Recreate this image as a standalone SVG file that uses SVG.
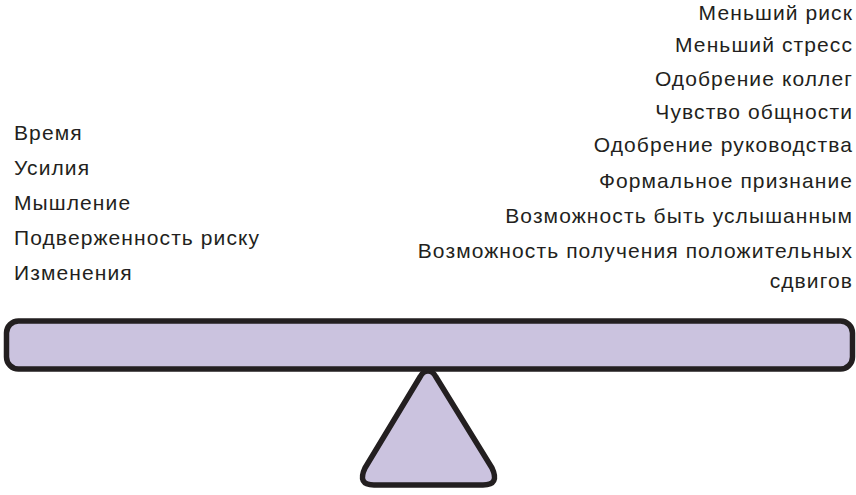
<svg xmlns="http://www.w3.org/2000/svg" width="856" height="495" viewBox="0 0 856 495">
<style>
text{font-family:"Liberation Sans",Arial,sans-serif;font-size:21px;letter-spacing:1.1px;fill:#231f20}
.r{text-anchor:end}
.shape{fill:#cbc3df;stroke:#231f20;stroke-width:5.5;stroke-linejoin:round}
</style>
<rect width="856" height="495" fill="#ffffff"/>
<g id="fulcrum">
<path class="shape" d="M428,371 Q433,371 436,377 L492,468 Q500,485 483,485 L374,485 Q357,485 365,468 L420,377 Q423,371 428,371 Z"/>
</g>
<g id="beam">
<rect class="shape" x="6.5" y="321" width="846" height="48" rx="12" ry="12"/>
</g>
<g id="left-items">
<text x="14" y="140">Время</text>
<text x="14" y="175">Усилия</text>
<text x="14" y="210">Мышление</text>
<text x="14" y="245">Подверженность риску</text>
<text x="14" y="280">Изменения</text>
</g>
<g id="right-items">
<text class="r" x="853" y="20">Меньший риск</text>
<text class="r" x="853" y="52">Меньший стресс</text>
<text class="r" x="853" y="86">Одобрение коллег</text>
<text class="r" x="853" y="119">Чувство общности</text>
<text class="r" x="853" y="152">Одобрение руководства</text>
<text class="r" x="853" y="188">Формальное признание</text>
<text class="r" x="853" y="223">Возможность быть услышанным</text>
<text class="r" x="853" y="258">Возможность получения положительных</text>
<text class="r" x="853" y="288">сдвигов</text>
</g>
<g id="connectors"/>
</svg>
